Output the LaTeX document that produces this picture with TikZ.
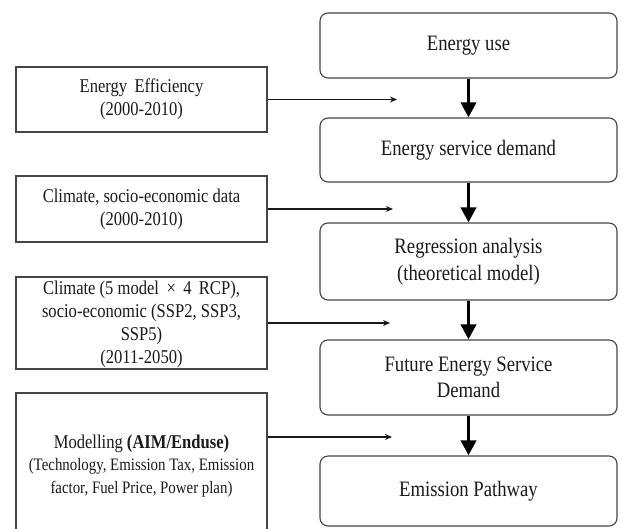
\documentclass[tikz,border=0pt]{standalone}
\usepackage{fontspec}
\setmainfont[FakeStretch=0.85]{Liberation Serif}
\usetikzlibrary{arrows.meta}
\definecolor{txt}{HTML}{1a1a1a}
\definecolor{bord}{HTML}{454545}
\tikzset{
  rbox/.style={draw=bord, line width=1.1pt, rounded corners=8pt, minimum width=297pt, align=center, text=txt,
    font=\fontsize{22pt}{26.5pt}\selectfont, inner sep=0pt},
  lbox/.style={draw=bord, line width=1.1pt, minimum width=251pt, align=center, text=txt,
    font=\fontsize{19.5pt}{23pt}\selectfont, inner sep=0pt},
  ltext/.style={align=center, text=txt, font=\fontsize{19.5pt}{23pt}\selectfont, inner sep=0pt},
  bigarrow/.style={draw=black, line width=3.5pt, -{Triangle[width=15pt,length=15pt]}},
  thinarrow/.style={draw=black!90, line width=1.5pt, -{Stealth[length=7pt,width=6pt]}}
}
\begin{document}
\begin{tikzpicture}[x=1pt,y=-1pt]
\useasboundingbox (0,0) rectangle (623,528);
\clip (0,0) rectangle (623,528);
\fill[white] (0,0) rectangle (623,528);

% right column
\node[rbox, minimum height=65pt] (r1) at (468.5,45.5) {Energy use};
\node[rbox, minimum height=64pt] (r2) at (468.5,150) {Energy service demand};
\node[rbox, minimum height=77pt] (r3) at (468.5,261.5) {Regression analysis\\(theoretical model)};
\node[rbox, minimum height=75pt] (r4) at (468.5,377.5) {Future Energy Service\\Demand};
\node[rbox, minimum height=70pt] (r5) at (468.5,491) {Emission Pathway};

\draw[bigarrow] (r1) -- (r2);
\draw[bigarrow] (r2) -- (r3);
\draw[bigarrow] (r3) -- (r4);
\draw[bigarrow] (r4) -- (r5);

% left column
\node[lbox, minimum height=65pt] (l1) at (141.5,99.5) {Energy\, Efficiency\\(2000-2010)};
\node[lbox, minimum height=66pt] (l2) at (141.5,209) {Climate, socio-economic data\\(2000-2010)};
\node[lbox, minimum height=92pt] (l3) at (141.5,323) {};
\node[ltext, anchor=north] (l3t) at (141.5,281) {Climate (5 model \,×\, 4 \,RCP),\\socio-economic (SSP2, SSP3,\\SSP5)\\(2011-2050)};
\node[lbox, minimum height=150pt] (l4) at (141.5,468) {};
\node[ltext] (l4t) at (141.5,466) {Modelling \textbf{(AIM/Enduse)}\\[-1pt]{\fontsize{17.5pt}{20pt}\selectfont (Technology, Emission Tax, Emission}\\{\fontsize{17.5pt}{20pt}\selectfont factor, Fuel Price, Power plan)}};

\coordinate (t1) at (397,99.5);
\coordinate (t2) at (393,209);
\coordinate (t3) at (390,323);
\coordinate (t4) at (392,437);
\draw[thinarrow] (l1.east) -- (t1);
\draw[thinarrow] (l2.east) -- (t2);
\draw[thinarrow] (l3.east) -- (t3);
\draw[thinarrow] (l4.east |- t4) -- (t4);
\end{tikzpicture}
\end{document}
